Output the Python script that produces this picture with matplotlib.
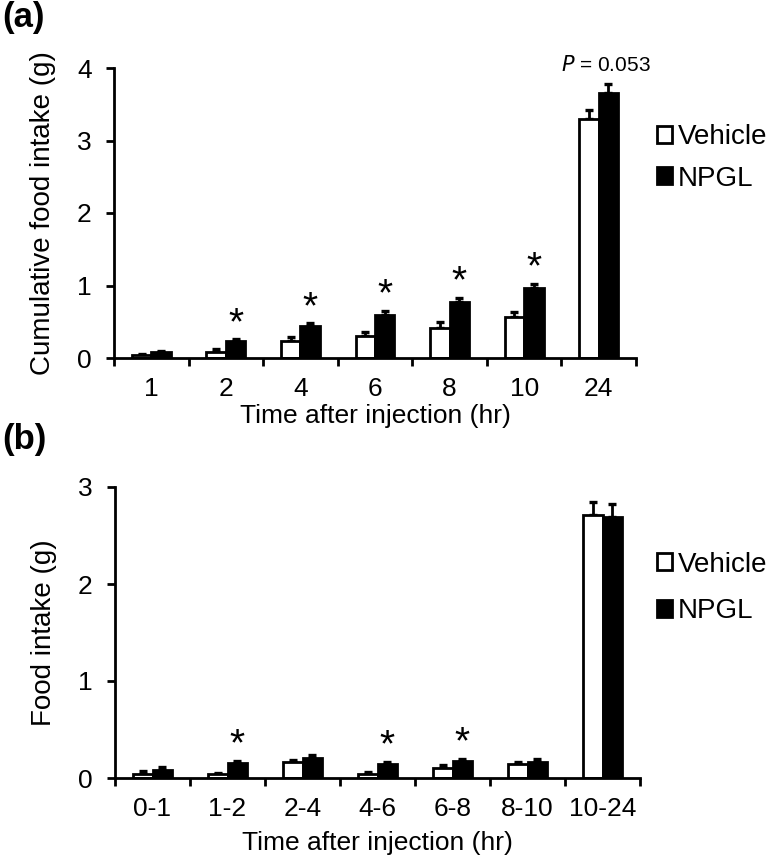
import matplotlib
matplotlib.use("Agg")
import matplotlib.pyplot as plt
from matplotlib.patches import Patch
import numpy as np

plt.rcParams['font.family'] = ['Liberation Sans', 'DejaVu Sans']

# panel (a): cumulative intake
times_a = ['1', '2', '4', '6', '8', '10', '24']
vehicle_a = [0.04, 0.08, 0.24, 0.30, 0.42, 0.57, 3.30]
vehicle_a_err = [0.02, 0.04, 0.05, 0.06, 0.07, 0.06, 0.12]
npgl_a = [0.08, 0.23, 0.44, 0.59, 0.77, 0.96, 3.66]
npgl_a_err = [0.02, 0.03, 0.04, 0.06, 0.06, 0.06, 0.12]
sig_a = [False, True, True, True, True, True, False]

# panel (b): intake per interval
times_b = ['0-1', '1-2', '2-4', '4-6', '6-8', '8-10', '10-24']
vehicle_b = [0.04, 0.04, 0.16, 0.04, 0.10, 0.145, 2.71]
vehicle_b_err = [0.03, 0.015, 0.03, 0.025, 0.03, 0.025, 0.14]
npgl_b = [0.08, 0.15, 0.21, 0.145, 0.18, 0.17, 2.69]
npgl_b_err = [0.03, 0.03, 0.03, 0.025, 0.02, 0.03, 0.13]
sig_b = [False, True, False, True, True, False, False]

FS = 19
LW = 2.0
W = 0.26


def draw_panel(ax, labels, veh, veh_err, npgl, npgl_err, sig, ymax, ylabel,
               xlabelpad):
    x = np.arange(len(labels))
    for xs, vals, errs, fc in [(x - W / 2, veh, veh_err, 'white'),
                               (x + W / 2, npgl, npgl_err, 'black')]:
        ax.errorbar(xs, vals, yerr=[np.zeros(len(vals)), errs], fmt='none',
                    ecolor='black', elinewidth=LW, capsize=3, capthick=2.4,
                    clip_on=False, zorder=1)
        ax.bar(xs, vals, width=W, color=fc, edgecolor='black', linewidth=LW,
               zorder=2)
    for i, s in enumerate(sig):
        if s:
            ax.annotate('*', xy=(x[i] + W / 2, npgl[i] + npgl_err[i]),
                        xytext=(0, 11), textcoords='offset points',
                        ha='center', va='center', fontsize=28)
    ax.set_xlim(-0.5, len(labels) - 0.5)
    ax.set_ylim(0, ymax)
    ax.set_yticks(range(ymax + 1))
    ax.set_xticks(np.arange(len(labels) + 1) - 0.5)
    ax.set_xticklabels([])
    ax.set_xticks(x, minor=True)
    ax.set_xticklabels(labels, minor=True, fontsize=FS)
    ax.tick_params(axis='x', which='major', direction='out', length=6, width=LW)
    ax.tick_params(axis='x', which='minor', length=0, pad=14)
    ax.tick_params(axis='y', direction='out', length=6, width=LW, pad=10,
                   labelsize=FS)
    for side in ['top', 'right']:
        ax.spines[side].set_visible(False)
    for side in ['left', 'bottom']:
        ax.spines[side].set_linewidth(LW)
    ax.set_xlabel('Time after injection (hr)', fontsize=FS, labelpad=xlabelpad)
    ax.set_ylabel(ylabel, fontsize=FS + 1, labelpad=15)


fig = plt.figure(figsize=(7.77, 8.68), dpi=100)
ax_a = fig.add_axes([114 / 777, 1 - 358 / 868, 522 / 777, 290 / 868])
ax_b = fig.add_axes([115 / 777, 1 - 778 / 868, 525 / 777, 291 / 868])

draw_panel(ax_a, times_a, vehicle_a, vehicle_a_err, npgl_a, npgl_a_err, sig_a,
           4, 'Cumulative food intake (g)', 2)
draw_panel(ax_b, times_b, vehicle_b, vehicle_b_err, npgl_b, npgl_b_err, sig_b,
           3, 'Food intake (g)', 7)

ax_a.text(6.1, 4.04, '$P$ = 0.053', ha='center', va='center', fontsize=15)

handles = [Patch(facecolor='white', edgecolor='black', linewidth=LW),
           Patch(facecolor='black', edgecolor='black', linewidth=LW)]
for ax, yc, sp in [(ax_a, 1 - 158 / 868, 0.55), (ax_b, 1 - 588 / 868, 0.75)]:
    ax.legend(handles, ['Vehicle', 'NPGL'], loc='center left',
              bbox_to_anchor=(657 / 777, yc), bbox_transform=fig.transFigure,
              frameon=False, fontsize=FS + 1, handlelength=0.55,
              handleheight=0.55, handletextpad=0.2, labelspacing=sp,
              borderpad=0, borderaxespad=0)

fig.text(0.003, 1 - 17 / 868, '(a)', fontsize=25, fontweight='bold',
         va='center', ha='left')
fig.text(0.003, 1 - 440 / 868, '(b)', fontsize=25, fontweight='bold',
         va='center', ha='left')

fig.savefig('out.png', dpi=100)
